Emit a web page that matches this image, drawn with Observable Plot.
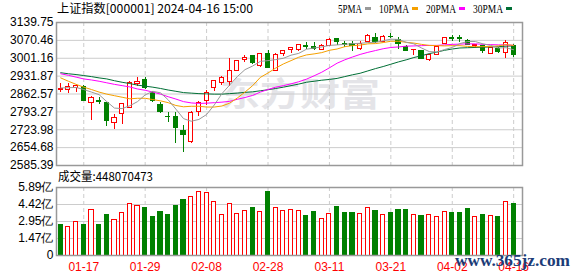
<!DOCTYPE html>
<html><head><meta charset="utf-8">
<script src="https://cdn.jsdelivr.net/npm/d3@7"></script>
<script src="https://cdn.jsdelivr.net/npm/@observablehq/plot@0.6"></script>
<style>
html,body{margin:0;padding:0;background:#fff;}
#wrap{position:relative;width:578px;height:276px;overflow:hidden;background:#fff;}
#wrap > *{position:absolute;left:0;}
</style></head><body><div id="wrap"></div>
<script>
const titleText = "上证指数[000001] 2024-04-16 15:00";
const volumeLabel = "成交量";
const lastVolume = 448070473;
const watermark1 = "东方财富";
const watermark2 = "www.365jz.com";

const dates = ["01-12","01-15","01-16","01-17","01-18","01-19","01-22","01-23","01-24","01-25","01-26","01-29","01-30","01-31","02-01","02-02","02-05","02-06","02-07","02-08","02-19","02-20","02-21","02-22","02-23","02-26","02-27","02-28","02-29","03-01","03-04","03-05","03-06","03-07","03-08","03-11","03-12","03-13","03-14","03-15","03-18","03-19","03-20","03-21","03-22","03-25","03-26","03-27","03-28","03-29","04-01","04-02","04-03","04-08","04-09","04-10","04-11","04-12","04-15","04-16"];
const openP  = [2878,2879,2885,2889,2827,2835,2828,2749,2786,2809,2900,2915,2867,2818,2775,2775,2718,2676,2794,2836,2884,2907,2910,2951,2993,3008,2971,3018,2952,3018,3032,3034,3047,3044,3032,3050,3074,3055,3055,3036,3066,3081,3066,3085,3070,3044,3032,3031,2995,3015,3056,3080,3081,3068,3048,3050,3018,3038,3022,3048];
const highP  = [2904,2904,2899,2897,2853,2848,2830,2783,2827,2912,2925,2925,2871,2830,2792,2792,2740,2793,2835,2877,2916,2929,3000,2993,3013,3012,3020,3033,3020,3032,3044,3055,3063,3064,3055,3077,3079,3067,3067,3067,3092,3096,3090,3097,3080,3050,3036,3033,3017,3046,3082,3090,3089,3072,3056,3052,3042,3042,3070,3055];
const lowP   = [2870,2866,2867,2832,2760,2822,2736,2724,2744,2808,2893,2880,2828,2786,2753,2669,2634,2670,2774,2819,2871,2894,2890,2948,2983,2975,2966,2960,2948,3008,3018,3028,3037,3030,3030,3048,3050,3043,3026,3032,3062,3058,3062,3078,3036,3028,3013,2997,2988,3010,3054,3068,3063,3050,3038,3020,3015,3020,3001,3005];
const closeP = [2882,2888,2895,2835,2848,2832,2757,2770,2822,2906,2911,2887,2837,2792,2772,2730,2703,2789,2826,2868,2914,2925,2952,2991,3004,2981,3017,2965,3013,3030,3040,3052,3045,3036,3050,3073,3063,3053,3050,3057,3089,3064,3084,3082,3058,3031,3035,2999,3015,3045,3079,3077,3075,3051,3053,3031,3040,3025,3061,3015];
const prevClose = 2887;
const volumeYi = [2.67,2.47,2.90,2.67,3.94,2.67,3.53,3.08,3.68,4.45,4.28,4.11,3.36,3.79,3.53,4.31,4.83,5.09,5.52,5.40,4.60,3.51,4.45,3.59,3.82,4.11,3.73,5.52,4.11,3.82,3.94,3.85,3.45,3.76,3.16,3.59,4.22,3.71,3.71,3.59,4.11,3.88,3.51,3.71,3.97,3.97,3.51,3.42,3.51,3.33,3.76,3.71,3.71,4.05,3.33,3.53,3.42,3.36,4.63,4.48];
const ma5  = [2886,2887,2888,2880,2870,2860,2833,2808,2806,2817,2833,2859,2873,2867,2840,2804,2767,2757,2764,2783,2820,2864,2897,2930,2957,2971,2989,2992,2996,3001,3013,3020,3036,3041,3045,3051,3053,3055,3058,3059,3062,3063,3069,3075,3074,3063,3057,3041,3027,3025,3035,3043,3058,3066,3066,3057,3051,3041,3042,3034];
const ma10 = [2925,2912,2900,2889,2880,2870,2862,2856,2850,2844,2846,2846,2841,2836,2829,2818,2813,2815,2815,2812,2812,2816,2827,2847,2870,2895,2927,2944,2963,2979,2992,3005,3014,3018,3023,3032,3037,3046,3050,3052,3057,3058,3062,3067,3067,3063,3060,3055,3051,3050,3049,3050,3050,3047,3046,3046,3047,3049,3054,3051];
const ma20 = [2941,2935,2928,2921,2917,2912,2906,2900,2895,2890,2882,2877,2870,2862,2852,2843,2833,2828,2826,2827,2829,2831,2834,2842,2849,2857,2870,2880,2889,2895,2902,2910,2920,2933,2947,2964,2982,2995,3006,3016,3024,3031,3038,3043,3045,3048,3049,3050,3051,3051,3053,3055,3056,3057,3057,3055,3054,3053,3053,3051];
const ma30 = [2945,2941,2938,2934,2930,2925,2921,2914,2908,2903,2897,2893,2889,2884,2878,2873,2868,2866,2864,2863,2862,2862,2864,2866,2869,2871,2875,2879,2884,2889,2895,2901,2908,2912,2916,2919,2923,2930,2937,2943,2952,2961,2969,2978,2987,2995,3004,3011,3019,3025,3032,3037,3041,3042,3043,3044,3045,3046,3048,3049];

const priceTicks = [2585.39,2654.68,2723.98,2793.27,2862.57,2931.87,3001.16,3070.46,3139.75];
const volTicks = [0,1.4725,2.945,4.4175,5.89];
const volTickLabels = ["0","1.47亿","2.95亿","4.42亿","5.89亿"];
const labelDates = ["01-17","01-29","02-08","02-28","03-11","03-21","04-02","04-16"];
const maNames = ["5PMA","10PMA","20PMA","30PMA"];
const maColors = ["#999999","#f5a000","#ff00ff","#006f35"];

const RED = "#ff0000", GREEN = "#008000";
const rows = dates.map((d, i) => ({
  i, date: d, open: openP[i], high: highP[i], low: lowP[i], close: closeP[i],
  vol: volumeYi[i], ma5: ma5[i], ma10: ma10[i], ma20: ma20[i], ma30: ma30[i],
  up: closeP[i] >= openP[i],
  volUp: closeP[i] >= (i ? closeP[i-1] : prevClose)
}));
const labelIdx = labelDates.map(d => dates.indexOf(d));
const xDomain = [-0.55, 60.15];
const half = 0.27;
const font = "'Liberation Sans', Arial, sans-serif";
const wrap = document.getElementById("wrap");

// background overlay: title, legend, volume label, watermark
const bg = d3.create("svg").attr("width",578).attr("height",276).style("left","0px").style("top","0px");
bg.append("text").attr("x",57).attr("y",12.5).attr("font-family","'Noto Sans CJK SC', sans-serif")
  .attr("font-size",12).attr("fill","#000").attr("textLength",196).attr("lengthAdjust","spacingAndGlyphs").text(titleText);
let lx = 338;
maNames.forEach((n, k) => {
  const w = n.length * 6;
  bg.append("text").attr("x",lx).attr("y",12.5).attr("font-family","'Liberation Serif', serif").attr("font-size",12)
    .attr("fill","#000").attr("textLength",w).attr("lengthAdjust","spacingAndGlyphs").text(n);
  bg.append("rect").attr("x",lx+w+3).attr("y",7).attr("width",6).attr("height",3).attr("fill",maColors[k]);
  lx += w + 3 + 6 + 8;
});
bg.append("text").attr("x",220).attr("y",106).attr("font-family","'Noto Sans CJK SC', sans-serif").attr("font-weight","bold")
  .attr("font-size",33).attr("fill","#e4e4e8").attr("textLength",160).attr("lengthAdjust","spacingAndGlyphs").text(watermark1);
bg.append("text").attr("x",58).attr("y",181).attr("font-family","'Noto Sans CJK SC', sans-serif")
  .attr("font-size",12).attr("fill","#000").attr("textLength",95).attr("lengthAdjust","spacingAndGlyphs").text(volumeLabel + ":" + lastVolume);
wrap.appendChild(bg.node());

const ups = rows.filter(d => d.up), downs = rows.filter(d => !d.up);
const main = Plot.plot({
  width: 578, height: 178, marginLeft: 56, marginRight: 56, marginTop: 22, marginBottom: 13,
  style: {background: "transparent", fontFamily: font, fontSize: "12px", color: "#000", overflow: "visible"},
  x: {domain: xDomain, axis: null, label: null},
  y: {domain: [priceTicks[0], priceTicks[priceTicks.length-1]], axis: null, label: null},
  marks: [
    Plot.gridY(priceTicks, {stroke: "#cccccc", strokeOpacity: 1}),
    Plot.gridX(labelIdx, {stroke: "#cccccc", strokeOpacity: 1, strokeDasharray: "4,3"}),
    Plot.axisY(priceTicks, {tickSize: 0, tickPadding: 3, fontSize: 12, fill: "#000", label: null, tickFormat: d => d.toFixed(2)}),
    Plot.ruleX(ups, {x: "i", y1: "low", y2: "high", stroke: RED, shapeRendering: "crispEdges"}),
    Plot.ruleX(downs, {x: "i", y1: "low", y2: "high", stroke: GREEN, shapeRendering: "crispEdges"}),
    Plot.rect(ups, {x1: d => d.i - half, x2: d => d.i + half, y1: "open", y2: "close", fill: "#fff", stroke: RED, shapeRendering: "crispEdges"}),
    Plot.rect(downs, {x1: d => d.i - half, x2: d => d.i + half, y1: "open", y2: "close", fill: GREEN, stroke: GREEN, shapeRendering: "crispEdges"}),
    Plot.line(rows, {x: "i", y: "ma30", stroke: maColors[3], strokeWidth: 1}),
    Plot.line(rows, {x: "i", y: "ma20", stroke: maColors[2], strokeWidth: 1}),
    Plot.line(rows, {x: "i", y: "ma10", stroke: maColors[1], strokeWidth: 1}),
    Plot.line(rows, {x: "i", y: "ma5", stroke: maColors[0], strokeWidth: 1}),
    Plot.frame({stroke: "#999999", strokeWidth: 1.5})
  ]
});
main.style.top = "0px";
wrap.appendChild(main);

const vUps = rows.filter(d => d.volUp), vDowns = rows.filter(d => !d.volUp);
const vol = Plot.plot({
  width: 578, height: 116, marginLeft: 56, marginRight: 56, marginTop: 27, marginBottom: 21,
  style: {background: "transparent", fontFamily: font, fontSize: "12px", color: "#000", overflow: "visible"},
  x: {domain: xDomain, axis: null, label: null},
  y: {domain: [0, 5.89], axis: null, label: null},
  marks: [
    Plot.gridY(volTicks, {stroke: "#cccccc", strokeOpacity: 1}),
    Plot.gridX(labelIdx, {stroke: "#cccccc", strokeOpacity: 1, strokeDasharray: "4,3"}),
    Plot.axisY(volTicks, {tickSize: 0, tickPadding: 3, fontSize: 12, fill: "#000", label: null, tickFormat: d => volTickLabels[volTicks.indexOf(d)]}),
    Plot.axisX(labelIdx, {anchor: "bottom", tickSize: 0, tickPadding: 7, fontSize: 12, fill: RED, label: null, tickFormat: i => dates[i]}),
    Plot.rect(vUps, {x1: d => d.i - half, x2: d => d.i + half, y1: () => 0, y2: "vol", fill: "#fff", stroke: RED, shapeRendering: "crispEdges"}),
    Plot.rect(vDowns, {x1: d => d.i - half, x2: d => d.i + half, y1: () => 0, y2: "vol", fill: GREEN, stroke: GREEN, shapeRendering: "crispEdges"}),
    Plot.frame({stroke: "#999999", strokeWidth: 1.5})
  ]
});
vol.style.top = "160px";
wrap.appendChild(vol);

// foreground watermark
const fg = d3.create("svg").attr("width",578).attr("height",276).style("left","0px").style("top","0px");
fg.append("text").attr("x",455).attr("y",266).attr("font-family","'Liberation Serif', serif").attr("font-weight","bold")
  .attr("font-size",17).attr("fill","#1c3c78").attr("textLength",115).attr("lengthAdjust","spacingAndGlyphs").text(watermark2);
wrap.appendChild(fg.node());
</script>
</body></html>
